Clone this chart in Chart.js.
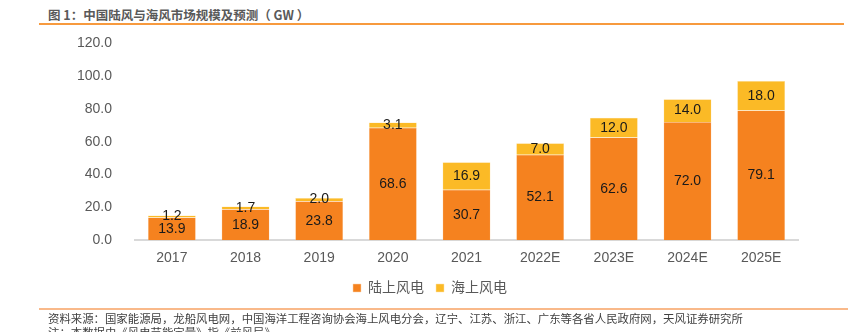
<!DOCTYPE html>
<html>
<head>
<meta charset="utf-8">
<script src="https://cdn.jsdelivr.net/npm/chart.js@4/dist/chart.umd.min.js"></script>
<style>
    body { margin: 0; background: #fff; width: 848px; height: 332px; overflow: hidden; position: relative; font-family: "Liberation Sans", "Noto Sans CJK SC", sans-serif; }
    #titulo { position: absolute; left: 48px; top: 5px; font-size: 12.5px; font-weight: bold; color: #595959; font-family: "Noto Sans CJK SC", sans-serif; }
    #linea1 { position: absolute; left: 39px; right: 4px; top: 23px; height: 2px; background: #f79a3e; }
    #linea2 { position: absolute; left: 39px; right: 0; top: 308px; height: 2px; background: #f9b98a; }
    #fuente { position: absolute; left: 48px; top: 311px; font-size: 11.4px; color: #404040; font-family: "Noto Sans CJK SC", sans-serif; line-height: 14px; white-space: nowrap; }
    #caja { position: absolute; left: 0; top: 20px; width: 848px; height: 289px; }
</style>
</head>
<body>
<div id="titulo">图 1：中国陆风与海风市场规模及预测（ GW ）</div>
<div id="linea1"></div>
<div id="caja"><canvas id="grafico"></canvas></div>
<div id="linea2"></div>
<div id="fuente">资料来源：国家能源局，龙船风电网，中国海洋工程咨询协会海上风电分会，辽宁、江苏、浙江、广东等各省人民政府网，天风证券研究所<br>注：本数据由《风电节能定量》指《前风局》</div>
<script>
// DATOS
var anios = ['2017', '2018', '2019', '2020', '2021', '2022E', '2023E', '2024E', '2025E'];
var terrestre = [13.9, 18.9, 23.8, 68.6, 30.7, 52.1, 62.6, 72.0, 79.1];
var marino = [1.2, 1.7, 2.0, 3.1, 16.9, 7.0, 12.0, 14.0, 18.0];
var ticksY = [0, 20, 40, 60, 80, 100, 120];

var fuente = '"Liberation Sans", "Noto Sans CJK SC", sans-serif';

// etiquetas en el centro de cada barra
var etiquetas = {
    id: 'etiquetas',
    afterDatasetsDraw: function (chart) {
        var ctx = chart.ctx;
        ctx.save();
        ctx.fillStyle = '#1a1a1a';
        ctx.font = '14px ' + fuente;
        ctx.textAlign = 'center';
        ctx.textBaseline = 'middle';
        chart.data.datasets.forEach(function (ds, i) {
            var meta = chart.getDatasetMeta(i);
            meta.data.forEach(function (barra, j) {
                var centro = barra.getCenterPoint();
                ctx.fillText(ds.data[j].toFixed(1), centro.x, centro.y);
            });
        });
        ctx.restore();
    }
};

var mostrar = document.getElementById('grafico');
var grafico = new Chart(mostrar, {
    type: 'bar',
    data: {
        labels: anios,
        datasets: [{
            label: '陆上风电',
            data: terrestre,
            backgroundColor: '#f5821f',
            borderColor: '#fbd3ad',
            borderWidth: 0.5,
            categoryPercentage: 1,
            barPercentage: 0.65
        }, {
            label: '海上风电',
            data: marino,
            backgroundColor: '#fbba26',
            borderColor: '#fde3a8',
            borderWidth: 0.5,
            categoryPercentage: 1,
            barPercentage: 0.65
        }]
    },
    options: {
        responsive: true,
        maintainAspectRatio: false,
        animation: false,
        layout: {
            padding: { left: 62, right: 50, top: 4, bottom: 4 }
        },
        plugins: {
            legend: {
                position: 'bottom',
                labels: {
                    boxWidth: 8,
                    boxHeight: 8,
                    padding: 12,
                    color: '#595959',
                    font: { size: 14, family: fuente }
                }
            },
            tooltip: { enabled: false }
        },
        scales: {
            x: {
                stacked: true,
                grid: { display: false },
                border: { color: '#d9d9d9', width: 2 },
                ticks: { color: '#595959', font: { size: 14, family: fuente }, padding: 2 }
            },
            y: {
                stacked: true,
                min: 0,
                max: 120,
                afterBuildTicks: function (eje) {
                    eje.ticks = ticksY.map(function (v) { return { value: v }; });
                },
                grid: { display: false },
                border: { display: false },
                ticks: {
                    color: '#595959',
                    font: { size: 14, family: fuente },
                    padding: 15,
                    callback: function (v) { return v.toFixed(1); }
                }
            }
        }
    },
    plugins: [etiquetas]
});
</script>
</body>
</html>
